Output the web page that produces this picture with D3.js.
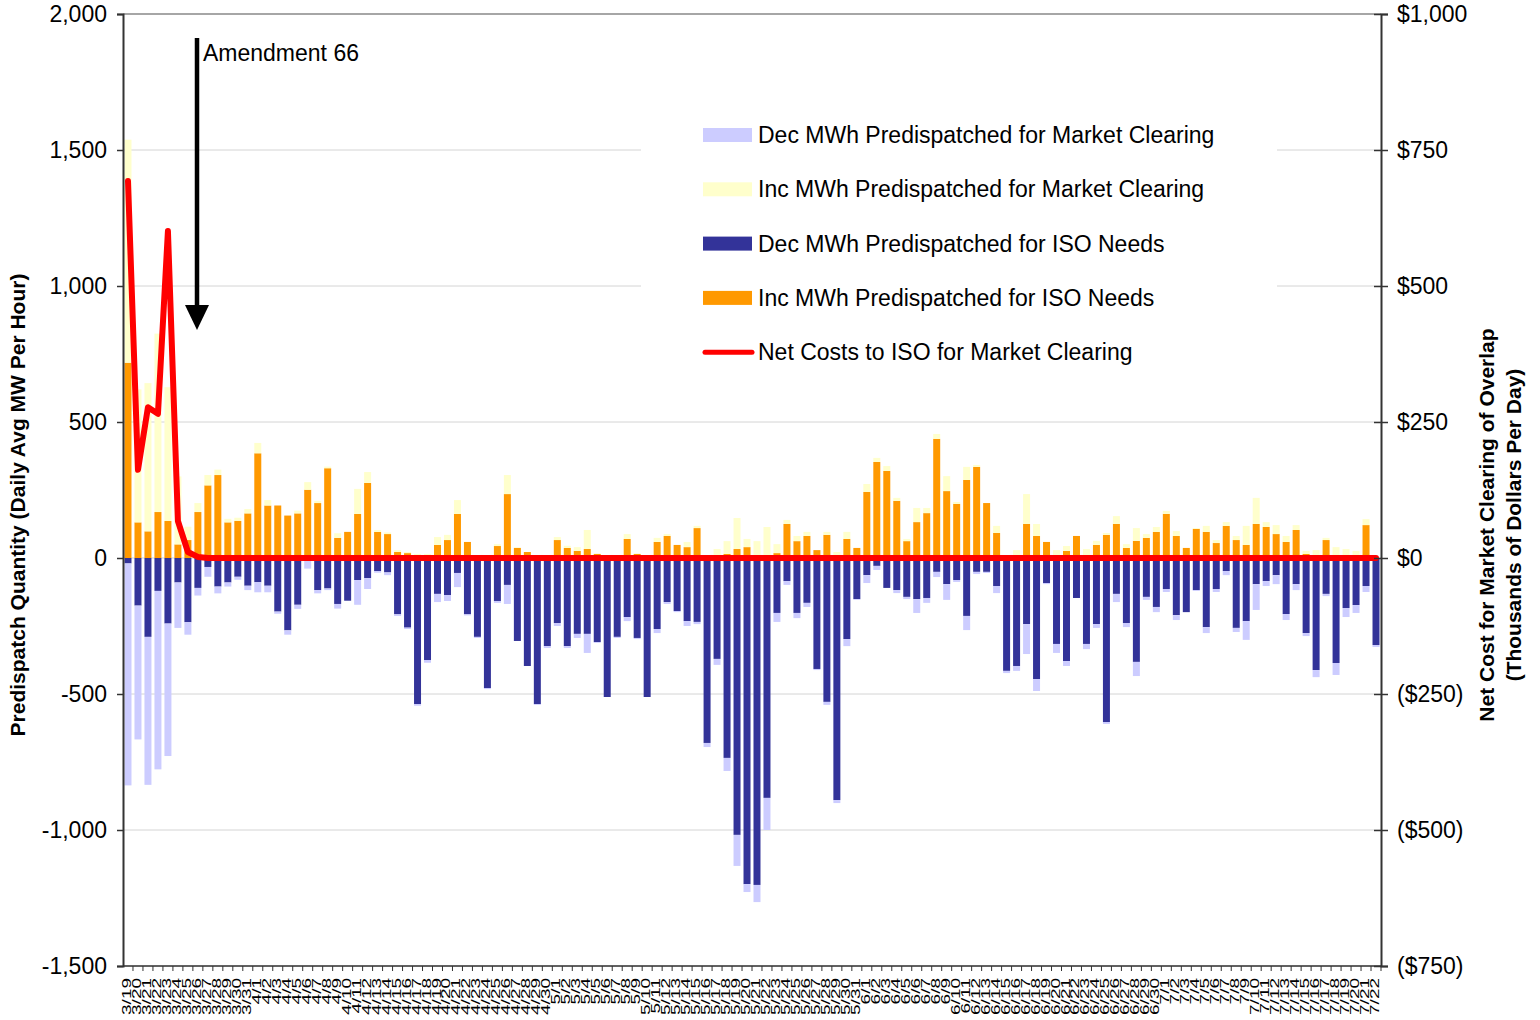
<!DOCTYPE html>
<html lang='en'>
  <head>
    <meta charset='utf-8'>
    <title>Predispatch Quantity and Net Cost of Overlap</title>
    <script type='text/javascript' src='https://cdn.jsdelivr.net/npm/d3@7/dist/d3.min.js'></script>
    <style>
      body { margin: 0; background: #fff; }
      text { font-family: 'Liberation Sans', Arial, sans-serif; }
    </style>
  </head>
  <body>
    <script type='text/javascript'>

      // categories: one bar per day, 3/19 through 7/22
      var dates = [
        '3/19','3/20','3/21','3/22','3/23','3/24','3/25','3/26','3/27','3/28','3/29','3/30','3/31',
        '4/1','4/2','4/3','4/4','4/5','4/6','4/7','4/8','4/9','4/10','4/11','4/12','4/13','4/14','4/15',
        '4/16','4/17','4/18','4/19','4/20','4/21','4/22','4/23','4/24','4/25','4/26','4/27','4/28','4/29','4/30',
        '5/1','5/2','5/3','5/4','5/5','5/6','5/7','5/8','5/9','5/10','5/11','5/12','5/13','5/14','5/15',
        '5/16','5/17','5/18','5/19','5/20','5/21','5/22','5/23','5/24','5/25','5/26','5/27','5/28','5/29','5/30','5/31',
        '6/1','6/2','6/3','6/4','6/5','6/6','6/7','6/8','6/9','6/10','6/11','6/12','6/13','6/14','6/15',
        '6/16','6/17','6/18','6/19','6/20','6/21','6/22','6/23','6/24','6/25','6/26','6/27','6/28','6/29','6/30',
        '7/1','7/2','7/3','7/4','7/5','7/6','7/7','7/8','7/9','7/10','7/11','7/12','7/13','7/14','7/15',
        '7/16','7/17','7/18','7/19','7/20','7/21','7/22'
      ];

      // MW, daily average per hour
      var incIso = [
        718,131,98,169,136,50,66,169,267,305,
        131,136,164,385,193,193,156,164,251,202,
        330,74,96,162,276,96,88,22,18,0,
        0,48,66,162,59,0,0,44,235,37,
        22,0,0,66,37,26,33,15,0,0,
        70,15,0,59,81,48,40,110,0,0,
        15,33,40,0,0,18,125,62,81,29,
        85,11,70,37,243,353,320,210,62,132,
        165,438,246,199,287,335,202,92,0,11,
        125,81,59,0,26,81,11,48,85,125,
        37,63,74,96,162,81,37,107,96,55,
        118,66,48,125,114,88,59,103,15,0,
        66,0,0,0,121,0
      ];
      var incMkt = [
        820,489,545,656,492,250,49,33,38,20,
        13,12,16,38,20,0,0,10,28,8,
        6,17,0,92,40,7,6,7,4,15,
        15,29,19,51,0,0,0,7,70,2,
        0,0,0,11,8,14,70,0,0,0,
        18,0,0,15,7,0,19,8,0,33,
        47,114,30,62,114,33,15,19,15,0,
        11,11,26,0,29,15,18,11,8,52,
        19,18,55,7,48,7,0,26,0,18,
        110,44,0,29,18,0,22,15,7,29,
        14,47,14,18,11,18,0,3,22,11,
        14,15,70,96,18,33,22,18,11,29,
        8,40,33,26,22,0
      ];
      var decIso = [
        20,175,290,121,241,90,236,110,33,105,
        90,69,102,89,102,197,266,172,5,118,
        112,169,157,81,74,48,53,207,256,537,
        375,132,136,55,207,290,478,158,99,305,
        397,537,324,239,324,279,279,309,511,290,
        217,294,511,261,162,195,232,235,680,371,
        735,1018,1199,1202,882,202,85,202,165,408,
        529,890,298,151,63,29,110,118,143,151,
        147,51,96,81,213,51,51,103,415,397,
        243,445,92,316,379,147,316,243,603,132,
        239,382,143,180,114,210,199,118,254,114,
        48,257,232,96,85,63,206,96,276,412,
        132,386,184,173,103,320
      ];
      var decMkt = [
        816,492,544,656,487,167,46,28,36,25,
        15,11,16,37,24,8,16,15,34,12,
        6,17,0,91,40,6,10,6,5,6,
        10,30,22,52,4,4,4,7,70,0,
        0,3,7,11,7,15,70,3,0,4,
        15,4,0,15,7,4,18,8,15,22,
        48,114,29,63,118,33,14,19,15,4,
        11,11,26,3,29,15,0,11,8,51,
        18,19,58,7,52,8,4,26,8,18,
        110,44,4,33,18,0,19,14,7,30,
        15,52,11,19,11,18,0,3,22,11,
        15,15,69,95,18,33,22,22,11,26,
        8,44,33,29,22,7
      ];
      // thousands of dollars per day
      var netCost = [
        693,162,277,265,601,68,11,2,0,0,
        0,0,0,0,0,0,0,0,0,0,
        0,0,0,0,0,0,0,0,0,0,
        0,0,0,0,0,0,0,0,0,0,
        0,0,0,0,0,0,0,0,0,0,
        0,0,0,0,0,0,0,0,0,0,
        0,0,0,0,0,0,0,0,0,0,
        0,0,0,0,0,0,0,0,0,0,
        0,0,0,0,0,0,0,0,0,0,
        0,0,0,0,0,0,0,0,0,0,
        0,0,0,0,0,0,0,0,0,0,
        0,0,0,0,0,0,0,0,0,0,
        0,0,0,0,0,0
      ];

      var leftTicks = [2000,1500,1000,500,0,-500,-1000,-1500];
      var rightTicks = [1000,750,500,250,0,-250,-500,-750];

      var legendItems = [
        {label: 'Dec MWh Predispatched for Market Clearing', key: 'decMkt'},
        {label: 'Inc MWh Predispatched for Market Clearing', key: 'incMkt'},
        {label: 'Dec MWh Predispatched for ISO Needs', key: 'decIso'},
        {label: 'Inc MWh Predispatched for ISO Needs', key: 'incIso'},
        {label: 'Net Costs to ISO for Market Clearing', key: 'line'}
      ];

      var colors = {
        incIso: '#FF9900',
        incMkt: '#FFFFCC',
        decIso: '#333399',
        decMkt: '#CCCCFF',
        line: '#FF0000'
      };

      var w = 1540;
      var h = 1020;
      // plot area edges (note: "top" is reserved on window, so prefixed names)
      var plotL = 123, plotR = 1381, plotT = 14, plotB = 966;
      var fontSize = '23px';

      var svg = d3.select('body')
                  .append('svg')
                  .attr('width', w)
                  .attr('height', h);

      var xScale = d3.scaleBand()
                     .domain(dates)
                     .range([plotL, plotR])
                     .paddingInner(0.3)
                     .paddingOuter(0.15);

      var yScale = d3.scaleLinear()
                     .domain([-1500, 2000])
                     .range([plotB, plotT]);

      var yRight = d3.scaleLinear()
                     .domain([-750, 1000])
                     .range([plotB, plotT]);

      // gridlines
      svg.append('g')
         .selectAll('line')
         .data(leftTicks)
         .enter()
         .append('line')
         .attr('x1', plotL)
         .attr('x2', plotR)
         .attr('y1', function(d){ return yScale(d); })
         .attr('y2', function(d){ return yScale(d); })
         .attr('stroke', function(d){ return d === 2000 ? '#888' : '#d4d4d4'; })
         .attr('stroke-width', function(d){ return d === 2000 ? 1.5 : 1; });

      // stacked bars, dec values pushed below zero
      var table = dates.map(function(d, i){
        return {
          date: d,
          incIso: incIso[i],
          incMkt: incMkt[i],
          decIso: -decIso[i],
          decMkt: -decMkt[i]
        };
      });

      var series = d3.stack()
                     .keys(['incIso','incMkt','decIso','decMkt'])
                     .offset(d3.stackOffsetDiverging)(table);

      svg.append('g')
         .selectAll('g')
         .data(series)
         .enter()
         .append('g')
         .attr('fill', function(s){ return colors[s.key]; })
         .selectAll('rect')
         .data(function(s){ return s; })
         .enter()
         .append('rect')
         .attr('x', function(d){ return xScale(d.data.date); })
         .attr('width', xScale.bandwidth())
         .attr('y', function(d){ return yScale(Math.max(d[0], d[1])); })
         .attr('height', function(d){ return Math.abs(yScale(d[0]) - yScale(d[1])); });

      // net cost line on right axis
      var line = d3.line()
                   .x(function(d, i){ return xScale(dates[i]) + xScale.bandwidth()/2; })
                   .y(function(d){ return yRight(d); });

      svg.append('path')
         .datum(netCost)
         .attr('d', line)
         .attr('fill', 'none')
         .attr('stroke', colors.line)
         .attr('stroke-width', 6)
         .attr('stroke-linejoin', 'round')
         .attr('stroke-linecap', 'round');

      // left axis, plain hyphen for negatives like the original
      var yAxisL = d3.axisLeft(yScale)
                     .tickValues(leftTicks)
                     .tickSize(6)
                     .tickPadding(10)
                     .tickFormat(function(d){ return d3.format(',')(d).replace('\u2212', '-'); });
      var gl = svg.append('g')
                  .attr('transform', 'translate(' + plotL + ',0)')
                  .call(yAxisL);
      gl.select('.domain').attr('stroke', '#333').attr('stroke-width', 2);
      gl.selectAll('.tick line').attr('stroke', '#333').attr('stroke-width', 1.5);
      gl.selectAll('text').attr('font-size', fontSize).attr('fill', '#000')
        .attr('font-family', "'Liberation Sans', Arial, sans-serif");

      // right axis
      var money = function(d){
        var s = '$' + d3.format(',')(Math.abs(d));
        return d < 0 ? '(' + s + ')' : s;
      };
      var yAxisR = d3.axisRight(yRight)
                     .tickValues(rightTicks)
                     .tickSize(7)
                     .tickPadding(9)
                     .tickFormat(money);
      var gr = svg.append('g')
                  .attr('transform', 'translate(' + plotR + ',0)')
                  .call(yAxisR);
      gr.select('.domain').attr('stroke', '#333').attr('stroke-width', 2);
      gr.selectAll('.tick line').attr('stroke', '#333').attr('stroke-width', 1.5).attr('x1', -7);
      gr.selectAll('text').attr('font-size', fontSize).attr('fill', '#000')
        .attr('font-family', "'Liberation Sans', Arial, sans-serif");

      // bottom category axis with a tick between every day
      svg.append('line')
         .attr('x1', plotL).attr('x2', plotR)
         .attr('y1', plotB).attr('y2', plotB)
         .attr('stroke', '#333').attr('stroke-width', 1.5);

      var step = xScale.step();
      svg.append('g')
         .selectAll('line')
         .data(dates)
         .enter()
         .append('line')
         .attr('x1', function(d){ return xScale(d) - step * 0.15 + step; })
         .attr('x2', function(d){ return xScale(d) - step * 0.15 + step; })
         .attr('y1', plotB)
         .attr('y2', plotB + 5)
         .attr('stroke', '#333');

      // day labels: rotated, squeezed across like the exported original
      svg.append('g')
         .selectAll('text')
         .data(dates)
         .enter()
         .append('text')
         .text(function(d){ return d; })
         .attr('transform', function(d){
           return 'translate(' + (xScale(d) + xScale.bandwidth()/2 + 3) + ',' + (plotB + 12) + ') rotate(-90) scale(1,0.7)';
         })
         .attr('text-anchor', 'end')
         .attr('font-size', '19px')
         .attr('fill', '#000');

      // axis titles
      svg.append('text')
         .text('Predispatch Quantity (Daily Avg MW Per Hour)')
         .attr('transform', 'translate(25,505) rotate(-90)')
         .attr('text-anchor', 'middle')
         .attr('font-size', '21px')
         .attr('font-weight', 'bold');

      svg.append('text')
         .attr('transform', 'translate(1494,525) rotate(-90)')
         .attr('text-anchor', 'middle')
         .attr('font-size', '21px')
         .attr('font-weight', 'bold')
         .selectAll('tspan')
         .data(['Net Cost for Market Clearing of Overlap', '(Thousands of Dollars Per Day)'])
         .enter()
         .append('tspan')
         .attr('x', 0)
         .attr('dy', function(d, i){ return i === 0 ? 0 : 27; })
         .text(function(d){ return d; });

      // Amendment 66 marker
      svg.append('line')
         .attr('x1', 197).attr('x2', 197)
         .attr('y1', 38).attr('y2', 308)
         .attr('stroke', '#000').attr('stroke-width', 4.5);
      svg.append('path')
         .attr('d', 'M185,305 L209,305 L197,330 Z')
         .attr('fill', '#000');
      svg.append('text')
         .text('Amendment 66')
         .attr('x', 203)
         .attr('y', 61)
         .attr('font-size', fontSize);

      // legend
      var lg = svg.append('g');
      lg.append('rect')
        .attr('x', 641).attr('y', 110)
        .attr('width', 636).attr('height', 262)
        .attr('fill', '#fff');

      var items = lg.selectAll('g.item')
                    .data(legendItems)
                    .enter()
                    .append('g')
                    .attr('class', 'item')
                    .attr('transform', function(d, i){ return 'translate(703,' + (135 + i * 54.3) + ')'; });

      items.filter(function(d){ return d.key !== 'line'; })
           .append('rect')
           .attr('x', 0).attr('y', -7)
           .attr('width', 49).attr('height', 14)
           .attr('fill', function(d){ return colors[d.key]; });

      items.filter(function(d){ return d.key === 'line'; })
           .append('line')
           .attr('x1', 2).attr('x2', 49)
           .attr('y1', 0).attr('y2', 0)
           .attr('stroke', colors.line)
           .attr('stroke-width', 5)
           .attr('stroke-linecap', 'round');

      items.append('text')
           .text(function(d){ return d.label; })
           .attr('x', 55)
           .attr('y', 0)
           .attr('dy', '0.35em')
           .attr('font-size', fontSize);

    </script>
  </body>
</html>
